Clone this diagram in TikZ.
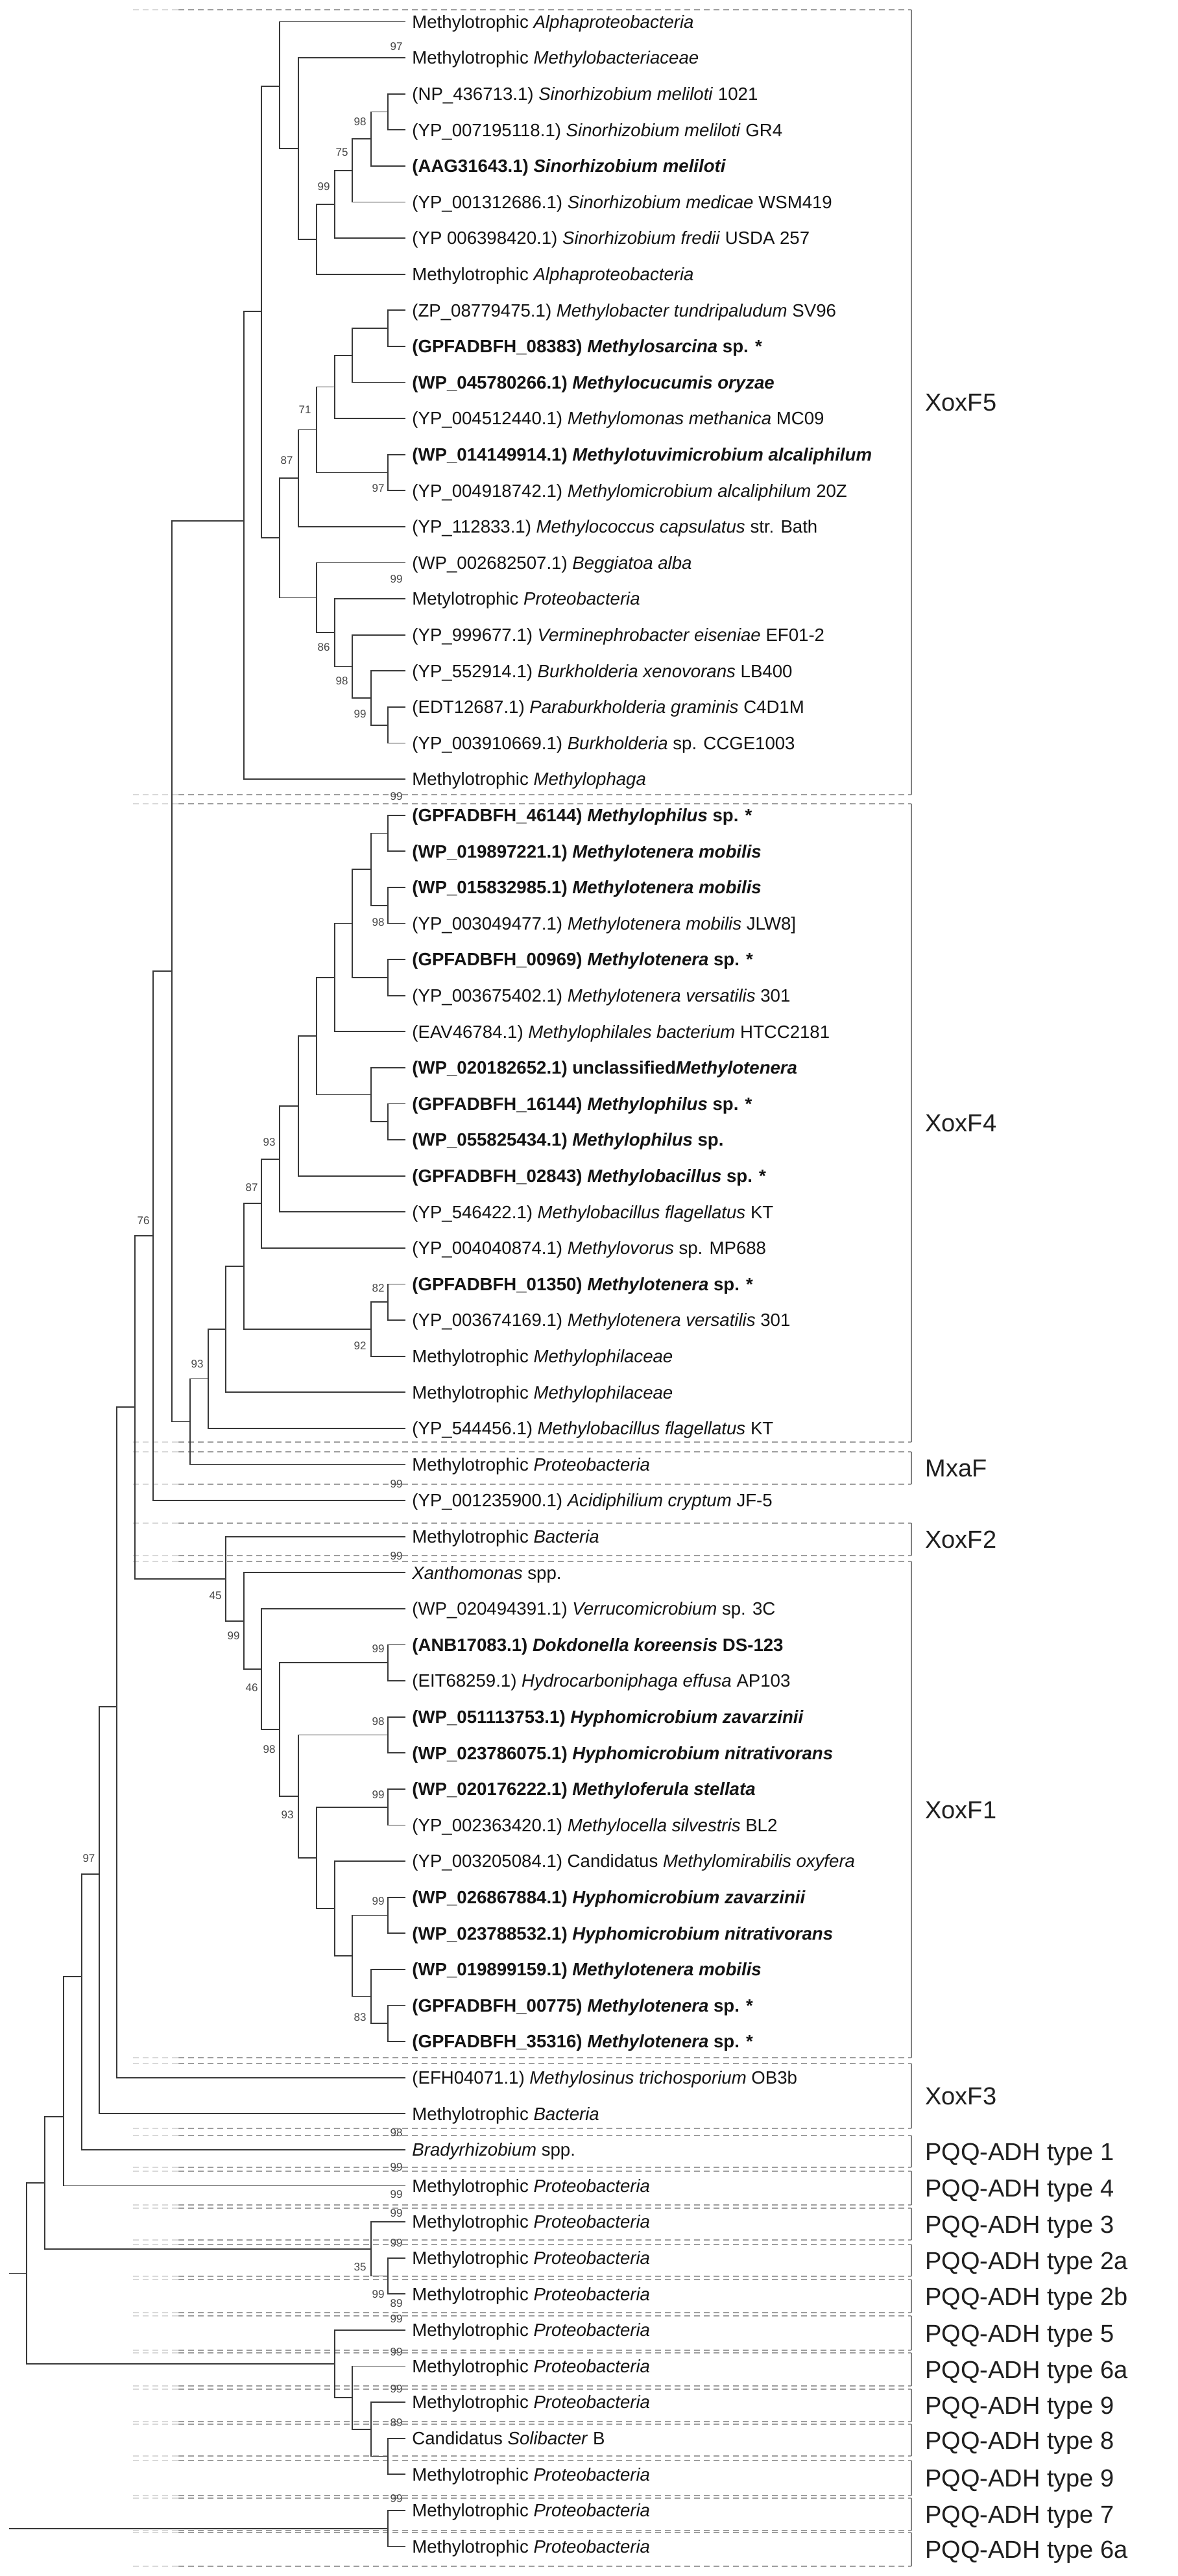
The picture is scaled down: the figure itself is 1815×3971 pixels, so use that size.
\documentclass[tikz,border=0pt]{standalone}
\usepackage{fontspec}
\setmainfont{Liberation Sans}
\begin{document}
\begin{tikzpicture}[x=0.5pt,y=-0.5pt,
  br/.style={draw=black!78, line width=0.85pt, line cap=rect},
  lbl/.style={anchor=base west, inner sep=0pt, xshift=5.5pt, yshift=-4.9pt, font=\fontsize{13.8}{14}\selectfont, text=black!92},
  bs/.style={inner sep=0pt, font=\fontsize{8.5}{9}\selectfont, text=black!72},
  grp/.style={anchor=base west, inner sep=0pt, yshift=-6.8pt, font=\fontsize{19}{20}\selectfont, text=black!88},
  sep/.style={draw=black!38, line width=0.6pt, dash pattern=on 4.5pt off 3pt},
  sepfade/.style={draw=black!15, line width=0.6pt, dash pattern=on 4.5pt off 3pt},
  brk/.style={draw=black!50, line width=0.7pt}]
\useasboundingbox (0,0) rectangle (1815,3971);
\fill[white] (0,0) rectangle (1815,3971);

% separators (dashed)
\foreach \y [count=\k] in {15,1225,1239,2223,2238,2288,2348,2398,2407,3172,3181,3281,3292,3341,3347,3399,3404,3453,3460,3509,3514,3565,3570,3623,3627,3678,3683,3733,3737,3786,3793,3847,3851,3901,3904,3956} {
  \coordinate (sa\k) at (205,\y);
  \coordinate (sm\k) at (275,\y);
  \coordinate (sb\k) at (1405,\y);
  \draw[sepfade] (sa\k) -- (sm\k);
  \draw[sep] (sm\k) -- (sb\k);
}

% brackets and group labels
\foreach \a/\b/\t [count=\k] in {15/1225/XoxF5, 1239/2223/XoxF4, 2238/2288/MxaF, 2348/2398/XoxF2, 2407/3172/XoxF1, 3181/3281/XoxF3, 3292/3341/PQQ-ADH type 1, 3347/3399/PQQ-ADH type 4, 3404/3453/PQQ-ADH type 3, 3460/3509/PQQ-ADH type 2a, 3514/3565/PQQ-ADH type 2b, 3570/3623/PQQ-ADH type 5, 3627/3678/PQQ-ADH type 6a, 3683/3733/PQQ-ADH type 9, 3737/3786/PQQ-ADH type 8, 3793/3847/PQQ-ADH type 9, 3851/3901/PQQ-ADH type 7, 3904/3956/PQQ-ADH type 6a} {
  \coordinate (gt\k) at (1405,\a);
  \coordinate (gb\k) at (1405,\b);
  \draw[brk] (gt\k) -- (gb\k);
  \pgfmathsetmacro\ym{(\a+\b)/2}
  \node[grp] (g\k) at (1426,\ym) {\t};
}

% leaf tips
\foreach \i in {1,...,71} {
  \pgfmathsetmacro\yy{33.5+(\i-1)*55.6}
  \coordinate (t\i) at (624,\yy);
}

% internal nodes
\coordinate (nG) at (598,172.5);
\coordinate (nF) at (572,214.2);
\coordinate (nE) at (543,262.9);
\coordinate (nD) at (516,315.0);
\coordinate (nC) at (488,368.9);
\coordinate (nB) at (460,229.0);
\coordinate (nA) at (431,133);
\coordinate (nX1) at (598,506.1);
\coordinate (nX2) at (543,547.8);
\coordinate (nX3) at (516,596.5);
\coordinate (nX4) at (598,728.5);
\coordinate (nX5) at (488,662.5);
\coordinate (nX6) at (460,737.2);
\coordinate (nY1) at (598,1117.7);
\coordinate (nY2) at (572,1076);
\coordinate (nY3) at (543,1027.4);
\coordinate (nY4) at (516,975.2);
\coordinate (nY5) at (488,921.4);
\coordinate (nK) at (431,829.3);
\coordinate (nH) at (403,480.3);
\coordinate (nI) at (376,803);
\coordinate (nJ) at (265,1497);
\coordinate (nZ1) at (598,1284.5);
\coordinate (nZ2) at (598,1395.7);
\coordinate (nZ3) at (572,1340.1);
\coordinate (nZ4) at (598,1506.9);
\coordinate (nZ5) at (543,1423.5);
\coordinate (nZ6) at (516,1506.9);
\coordinate (nZ7) at (598,1729.3);
\coordinate (nZ8) at (572,1687.6);
\coordinate (nZ9) at (488,1597.3);
\coordinate (nZ10) at (460,1705);
\coordinate (nZ11) at (431,1786.7);
\coordinate (nZ12) at (403,1855.3);
\coordinate (nZ13) at (598,2007.3);
\coordinate (nZ14) at (572,2049);
\coordinate (nZ15) at (376,1952.2);
\coordinate (nZ16) at (348,2049.2);
\coordinate (nM) at (321,2125.6);
\coordinate (nL) at (293,2191.5);
\coordinate (nN) at (236,1905);
\coordinate (nW1) at (598,2563.3);
\coordinate (nW2) at (598,2674.5);
\coordinate (nW3) at (598,2785.7);
\coordinate (nW4) at (598,2952.5);
\coordinate (nW5) at (598,3119.3);
\coordinate (nW6) at (572,3077.6);
\coordinate (nW7) at (543,3015);
\coordinate (nW8) at (516,2942);
\coordinate (nW9) at (488,2863.9);
\coordinate (nU) at (460,2769.2);
\coordinate (nS) at (431,2666.3);
\coordinate (nR) at (403,2573.1);
\coordinate (nQ) at (376,2498.7);
\coordinate (nP) at (348,2433.7);
\coordinate (nO) at (208,2169);
\coordinate (nAD) at (180,2631);
\coordinate (nAE) at (153,2889);
\coordinate (nAF) at (126,3047);
\coordinate (nAG) at (98,3263);
\coordinate (nAJ) at (598,3508.5);
\coordinate (nAI) at (572,3466.8);
\coordinate (nAH) at (69,3365);
\coordinate (nAO) at (598,3786.5);
\coordinate (nAN) at (572,3744.8);
\coordinate (nAM) at (543,3696.2);
\coordinate (nAL) at (516,3644);
\coordinate (nAK) at (41,3504.5);
\coordinate (nR0) at (15,3504.5);
\coordinate (nAP) at (598,3897.7);
\coordinate (nR2) at (15,3897.7);

% branches
\foreach \p/\c in {nA/t1, nA/nB, nB/t2, nB/nC, nC/nD, nC/t8, nD/nE, nD/t7, nE/nF, nE/t6, nF/nG, nF/t5, nG/t3, nG/t4,
  nX1/t9, nX1/t10, nX2/nX1, nX2/t11, nX3/nX2, nX3/t12, nX4/t13, nX4/t14, nX5/nX3, nX5/nX4, nX6/nX5, nX6/t15,
  nY1/t20, nY1/t21, nY2/t19, nY2/nY1, nY3/t18, nY3/nY2, nY4/t17, nY4/nY3, nY5/t16, nY5/nY4,
  nK/nX6, nK/nY5, nH/nA, nH/nK, nI/nH, nI/t22, nJ/nI, nJ/nL,
  nZ1/t23, nZ1/t24, nZ2/t25, nZ2/t26, nZ3/nZ1, nZ3/nZ2, nZ4/t27, nZ4/t28, nZ5/nZ3, nZ5/nZ4, nZ6/nZ5, nZ6/t29,
  nZ7/t31, nZ7/t32, nZ8/t30, nZ8/nZ7, nZ9/nZ6, nZ9/nZ8, nZ10/nZ9, nZ10/t33, nZ11/nZ10, nZ11/t34, nZ12/nZ11, nZ12/t35,
  nZ13/t36, nZ13/t37, nZ14/nZ13, nZ14/t38, nZ15/nZ12, nZ15/nZ14, nZ16/nZ15, nZ16/t39, nM/nZ16, nM/t40, nL/nM, nL/t41,
  nN/nJ, nN/t42,
  nW1/t46, nW1/t47, nW2/t48, nW2/t49, nW3/t50, nW3/t51, nW4/t53, nW4/t54, nW5/t56, nW5/t57, nW6/t55, nW6/nW5,
  nW7/nW4, nW7/nW6, nW8/t52, nW8/nW7, nW9/nW3, nW9/nW8, nU/nW2, nU/nW9, nS/nW1, nS/nU, nR/t45, nR/nS,
  nQ/t44, nQ/nR, nP/t43, nP/nQ, nO/nN, nO/nP, nAD/nO, nAD/t58, nAE/nAD, nAE/t59, nAF/nAE, nAF/t60, nAG/nAF, nAG/t61,
  nAJ/t63, nAJ/t64, nAI/t62, nAI/nAJ, nAH/nAG, nAH/nAI,
  nAO/t68, nAO/t69, nAN/t67, nAN/nAO, nAM/t66, nAM/nAN, nAL/t65, nAL/nAM, nAK/nAH, nAK/nAL, nAP/t70, nAP/t71}
  \draw[br] (\p) |- (\c);
\draw[br] (nR0) -- (nAK);
\draw[br] (nR2) -- (nAP);

% bootstrap values
\foreach \x/\y/\v [count=\k] in {611/72/97, 555/188/98, 527/235/75, 499/288/99, 470/632/71, 442/710/87, 583/753/97, 611/893/99, 499/998/86, 527/1050/98, 555/1101/99, 611/1228/99, 583/1422/98, 415/1761/93, 388/1831/87, 221/1882/76, 583/1986/82, 555/2075/92, 304/2103/93, 611/2288/99, 611/2399/99, 332/2460/45, 360/2522/99, 583/2542/99, 388/2602/46, 583/2654/98, 415/2697/98, 583/2767/99, 443/2798/93, 137/2865/97, 583/2931/99, 555/3110/83, 611/3288/98, 611/3341/99, 611/3383/99, 611/3412/99, 611/3458/99, 555/3495/35, 583/3537/99, 611/3551/89, 611/3575/99, 611/3626/99, 611/3683/99, 611/3735/89, 611/3852/99}
  \node[bs] (bv\k) at (\x,\y) {\v};

% leaf labels
\node[lbl] (l1) at (t1) {Methylotrophic \textit{Alphaproteobacteria}};
\node[lbl] (l2) at (t2) {Methylotrophic \textit{Methylobacteriaceae}};
\node[lbl] (l3) at (t3) {(NP\_436713.1) \textit{Sinorhizobium meliloti} 1021};
\node[lbl] (l4) at (t4) {(YP\_007195118.1) \textit{Sinorhizobium meliloti} GR4};
\node[lbl] (l5) at (t5) {\textbf{(AAG31643.1) \textit{Sinorhizobium meliloti}}};
\node[lbl] (l6) at (t6) {(YP\_001312686.1) \textit{Sinorhizobium medicae} WSM419};
\node[lbl] (l7) at (t7) {(YP 006398420.1) \textit{Sinorhizobium fredii} USDA 257};
\node[lbl] (l8) at (t8) {Methylotrophic \textit{Alphaproteobacteria}};
\node[lbl] (l9) at (t9) {(ZP\_08779475.1) \textit{Methylobacter tundripaludum} SV96};
\node[lbl] (l10) at (t10) {\textbf{(GPFADBFH\_08383) \textit{Methylosarcina} sp. *}};
\node[lbl] (l11) at (t11) {\textbf{(WP\_045780266.1) \textit{Methylocucumis oryzae}}};
\node[lbl] (l12) at (t12) {(YP\_004512440.1) \textit{Methylomonas methanica} MC09};
\node[lbl] (l13) at (t13) {\textbf{(WP\_014149914.1) \textit{Methylotuvimicrobium alcaliphilum}}};
\node[lbl] (l14) at (t14) {(YP\_004918742.1) \textit{Methylomicrobium alcaliphilum} 20Z};
\node[lbl] (l15) at (t15) {(YP\_112833.1) \textit{Methylococcus capsulatus} str. Bath};
\node[lbl] (l16) at (t16) {(WP\_002682507.1) \textit{Beggiatoa alba}};
\node[lbl] (l17) at (t17) {Metylotrophic \textit{Proteobacteria}};
\node[lbl] (l18) at (t18) {(YP\_999677.1) \textit{Verminephrobacter eiseniae} EF01-2};
\node[lbl] (l19) at (t19) {(YP\_552914.1) \textit{Burkholderia xenovorans} LB400};
\node[lbl] (l20) at (t20) {(EDT12687.1) \textit{Paraburkholderia graminis} C4D1M};
\node[lbl] (l21) at (t21) {(YP\_003910669.1) \textit{Burkholderia} sp. CCGE1003};
\node[lbl] (l22) at (t22) {Methylotrophic \textit{Methylophaga}};
\node[lbl] (l23) at (t23) {\textbf{(GPFADBFH\_46144) \textit{Methylophilus} sp. *}};
\node[lbl] (l24) at (t24) {\textbf{(WP\_019897221.1) \textit{Methylotenera mobilis}}};
\node[lbl] (l25) at (t25) {\textbf{(WP\_015832985.1) \textit{Methylotenera mobilis}}};
\node[lbl] (l26) at (t26) {(YP\_003049477.1) \textit{Methylotenera mobilis} JLW8]};
\node[lbl] (l27) at (t27) {\textbf{(GPFADBFH\_00969) \textit{Methylotenera} sp. *}};
\node[lbl] (l28) at (t28) {(YP\_003675402.1) \textit{Methylotenera versatilis} 301};
\node[lbl] (l29) at (t29) {(EAV46784.1) \textit{Methylophilales bacterium} HTCC2181};
\node[lbl] (l30) at (t30) {\textbf{(WP\_020182652.1) unclassified\textit{Methylotenera}}};
\node[lbl] (l31) at (t31) {\textbf{(GPFADBFH\_16144) \textit{Methylophilus} sp. *}};
\node[lbl] (l32) at (t32) {\textbf{(WP\_055825434.1) \textit{Methylophilus} sp.}};
\node[lbl] (l33) at (t33) {\textbf{(GPFADBFH\_02843) \textit{Methylobacillus} sp. *}};
\node[lbl] (l34) at (t34) {(YP\_546422.1) \textit{Methylobacillus flagellatus} KT};
\node[lbl] (l35) at (t35) {(YP\_004040874.1) \textit{Methylovorus} sp. MP688};
\node[lbl] (l36) at (t36) {\textbf{(GPFADBFH\_01350) \textit{Methylotenera} sp. *}};
\node[lbl] (l37) at (t37) {(YP\_003674169.1) \textit{Methylotenera versatilis} 301};
\node[lbl] (l38) at (t38) {Methylotrophic \textit{Methylophilaceae}};
\node[lbl] (l39) at (t39) {Methylotrophic \textit{Methylophilaceae}};
\node[lbl] (l40) at (t40) {(YP\_544456.1) \textit{Methylobacillus flagellatus} KT};
\node[lbl] (l41) at (t41) {Methylotrophic \textit{Proteobacteria}};
\node[lbl] (l42) at (t42) {(YP\_001235900.1) \textit{Acidiphilium cryptum} JF-5};
\node[lbl] (l43) at (t43) {Methylotrophic \textit{Bacteria}};
\node[lbl] (l44) at (t44) {\textit{Xanthomonas} spp.};
\node[lbl] (l45) at (t45) {(WP\_020494391.1) \textit{Verrucomicrobium} sp. 3C};
\node[lbl] (l46) at (t46) {\textbf{(ANB17083.1) \textit{Dokdonella koreensis} DS-123}};
\node[lbl] (l47) at (t47) {(EIT68259.1) \textit{Hydrocarboniphaga effusa} AP103};
\node[lbl] (l48) at (t48) {\textbf{(WP\_051113753.1) \textit{Hyphomicrobium zavarzinii}}};
\node[lbl] (l49) at (t49) {\textbf{(WP\_023786075.1) \textit{Hyphomicrobium nitrativorans}}};
\node[lbl] (l50) at (t50) {\textbf{(WP\_020176222.1) \textit{Methyloferula stellata}}};
\node[lbl] (l51) at (t51) {(YP\_002363420.1) \textit{Methylocella silvestris} BL2};
\node[lbl] (l52) at (t52) {(YP\_003205084.1) Candidatus \textit{Methylomirabilis oxyfera}};
\node[lbl] (l53) at (t53) {\textbf{(WP\_026867884.1) \textit{Hyphomicrobium zavarzinii}}};
\node[lbl] (l54) at (t54) {\textbf{(WP\_023788532.1) \textit{Hyphomicrobium nitrativorans}}};
\node[lbl] (l55) at (t55) {\textbf{(WP\_019899159.1) \textit{Methylotenera mobilis}}};
\node[lbl] (l56) at (t56) {\textbf{(GPFADBFH\_00775) \textit{Methylotenera} sp. *}};
\node[lbl] (l57) at (t57) {\textbf{(GPFADBFH\_35316) \textit{Methylotenera} sp. *}};
\node[lbl] (l58) at (t58) {(EFH04071.1) \textit{Methylosinus trichosporium} OB3b};
\node[lbl] (l59) at (t59) {Methylotrophic \textit{Bacteria}};
\node[lbl] (l60) at (t60) {\textit{Bradyrhizobium} spp.};
\node[lbl] (l61) at (t61) {Methylotrophic \textit{Proteobacteria}};
\node[lbl] (l62) at (t62) {Methylotrophic \textit{Proteobacteria}};
\node[lbl] (l63) at (t63) {Methylotrophic \textit{Proteobacteria}};
\node[lbl] (l64) at (t64) {Methylotrophic \textit{Proteobacteria}};
\node[lbl] (l65) at (t65) {Methylotrophic \textit{Proteobacteria}};
\node[lbl] (l66) at (t66) {Methylotrophic \textit{Proteobacteria}};
\node[lbl] (l67) at (t67) {Methylotrophic \textit{Proteobacteria}};
\node[lbl] (l68) at (t68) {Candidatus \textit{Solibacter} B};
\node[lbl] (l69) at (t69) {Methylotrophic \textit{Proteobacteria}};
\node[lbl] (l70) at (t70) {Methylotrophic \textit{Proteobacteria}};
\node[lbl] (l71) at (t71) {Methylotrophic \textit{Proteobacteria}};
\end{tikzpicture}
\end{document}
